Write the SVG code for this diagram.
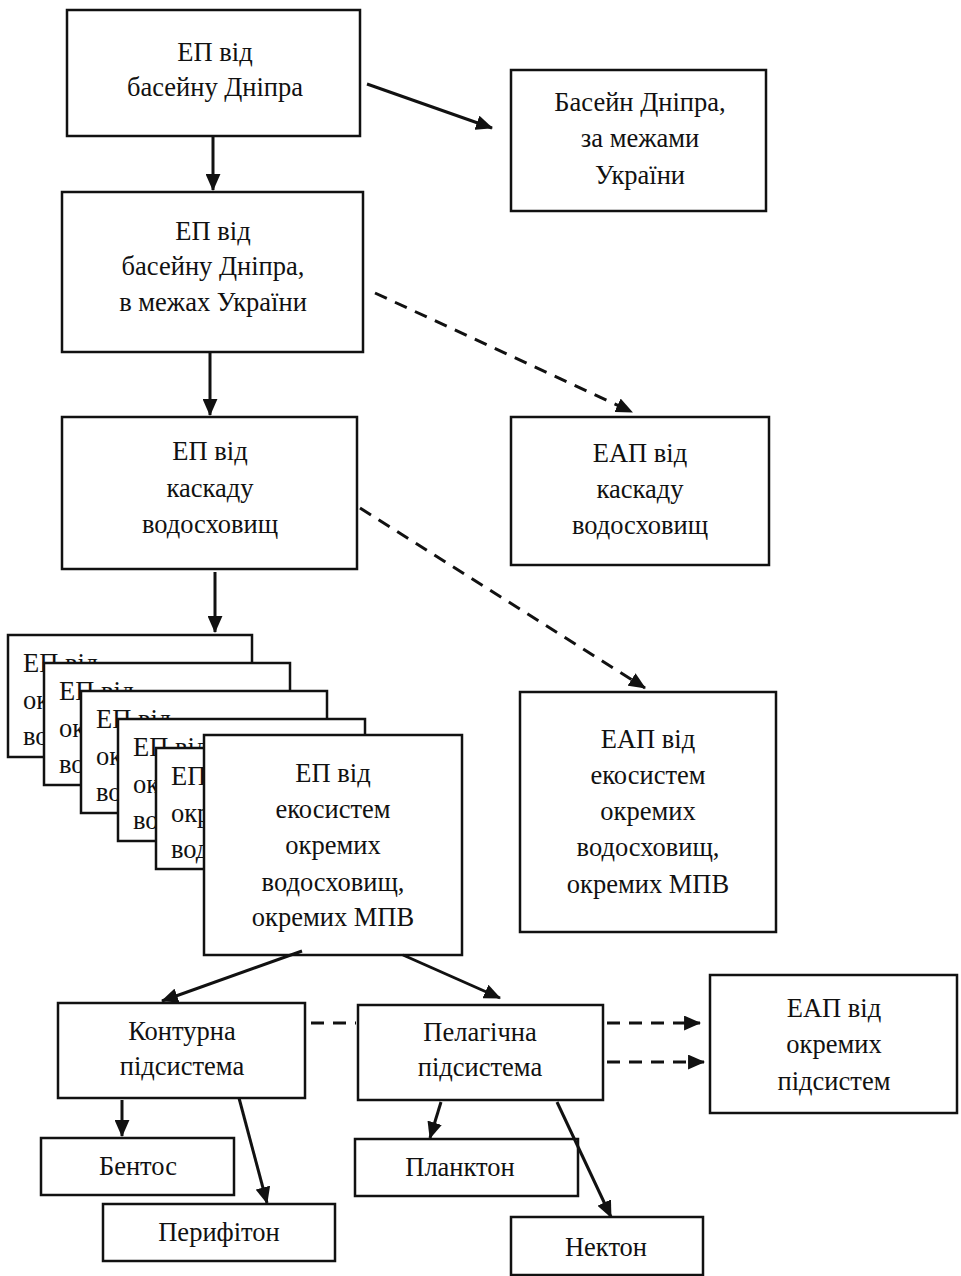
<svg xmlns="http://www.w3.org/2000/svg" width="961" height="1276" viewBox="0 0 961 1276">
<defs>
<style>
.b{fill:#fff;stroke:#111;stroke-width:2.5}
.t{font-family:"Liberation Serif","DejaVu Serif",serif;font-size:26.5px;fill:#111;text-anchor:middle}
.tl{font-family:"Liberation Serif","DejaVu Serif",serif;font-size:26.5px;fill:#111}
.c{stroke:#111;stroke-width:3;fill:none}
.d{stroke:#111;stroke-width:3;fill:none;stroke-dasharray:13 9}
</style>
<marker id="a" viewBox="0 0 16 14" refX="15" refY="7" markerWidth="17" markerHeight="15" markerUnits="userSpaceOnUse" orient="auto">
<path d="M0,0 L16,7 L0,14 z" fill="#111"/>
</marker>
</defs>
<rect width="961" height="1276" fill="#fff"/>

<g id="n1"><rect class="b" x="67" y="10" width="293" height="126"/>
<text class="t" x="215" y="61">ЕП від</text><text class="t" x="215" y="96">басейну Дніпра</text></g>

<g id="n2"><rect class="b" x="511" y="70" width="255" height="141"/>
<text class="t" x="640" y="111">Басейн Дніпра,</text><text class="t" x="640" y="147">за межами</text><text class="t" x="640" y="184">України</text></g>

<g id="n3"><rect class="b" x="62" y="192" width="301" height="160"/>
<text class="t" x="213" y="240">ЕП від</text><text class="t" x="213" y="275">басейну Дніпра,</text><text class="t" x="213" y="311">в межах України</text></g>

<g id="n4"><rect class="b" x="62" y="417" width="295" height="152"/>
<text class="t" x="210" y="460">ЕП від</text><text class="t" x="210" y="497">каскаду</text><text class="t" x="210" y="533">водосховищ</text></g>

<g id="n5"><rect class="b" x="511" y="417" width="258" height="148"/>
<text class="t" x="640" y="462">ЕАП від</text><text class="t" x="640" y="498">каскаду</text><text class="t" x="640" y="534">водосховищ</text></g>

<g id="stack1"><rect class="b" x="8" y="635" width="244" height="122"/>
<text class="tl" x="23" y="672">ЕП від</text><text class="tl" x="23" y="709">ок</text><text class="tl" x="23" y="745">во</text></g>
<g id="stack2"><rect class="b" x="44" y="663" width="246" height="122"/>
<text class="tl" x="59" y="700">ЕП від</text><text class="tl" x="59" y="737">ок</text><text class="tl" x="59" y="773">во</text></g>
<g id="stack3"><rect class="b" x="81" y="691" width="246" height="122"/>
<text class="tl" x="96" y="728">ЕП від</text><text class="tl" x="96" y="765">ок</text><text class="tl" x="96" y="801">во</text></g>
<g id="stack4"><rect class="b" x="118" y="719" width="247" height="122"/>
<text class="tl" x="133" y="756">ЕП від</text><text class="tl" x="133" y="793">ок</text><text class="tl" x="133" y="829">во</text></g>
<g id="stack5"><rect class="b" x="156" y="748" width="247" height="121"/>
<text class="tl" x="171" y="785">ЕП</text><text class="tl" x="171" y="822">окр</text><text class="tl" x="171" y="858">вод</text></g>

<g id="n6"><rect class="b" x="204" y="735" width="258" height="220"/>
<text class="t" x="333" y="782">ЕП від</text><text class="t" x="333" y="818">екосистем</text><text class="t" x="333" y="854">окремих</text><text class="t" x="333" y="891">водосховищ,</text><text class="t" x="333" y="926">окремих МПВ</text></g>

<g id="n7"><rect class="b" x="520" y="692" width="256" height="240"/>
<text class="t" x="648" y="748">ЕАП від</text><text class="t" x="648" y="784">екосистем</text><text class="t" x="648" y="820">окремих</text><text class="t" x="648" y="856">водосховищ,</text><text class="t" x="648" y="893">окремих МПВ</text></g>

<g id="n8"><rect class="b" x="58" y="1003" width="247" height="95"/>
<text class="t" x="182" y="1040">Контурна</text><text class="t" x="182" y="1075">підсистема</text></g>

<g id="n9"><rect class="b" x="358" y="1005" width="245" height="95"/>
<text class="t" x="480" y="1041">Пелагічна</text><text class="t" x="480" y="1076">підсистема</text></g>

<g id="n10"><rect class="b" x="710" y="975" width="247" height="138"/>
<text class="t" x="834" y="1017">ЕАП від</text><text class="t" x="834" y="1053">окремих</text><text class="t" x="834" y="1090">підсистем</text></g>

<g id="n11"><rect class="b" x="41" y="1138" width="193" height="57"/>
<text class="t" x="138" y="1175">Бентос</text></g>
<g id="n12"><rect class="b" x="103" y="1204" width="232" height="57"/>
<text class="t" x="219" y="1241">Перифітон</text></g>
<g id="n13"><rect class="b" x="355" y="1139" width="223" height="57"/>
<text class="t" x="460" y="1176">Планктон</text></g>
<g id="n14"><rect class="b" x="511" y="1217" width="192" height="58"/>
<text class="t" x="606" y="1256">Нектон</text></g>

<g id="connectors">
<line class="c" x1="367" y1="84" x2="492" y2="128" marker-end="url(#a)"/>
<line class="c" x1="213" y1="137" x2="213" y2="190" marker-end="url(#a)"/>
<line class="d" x1="375" y1="293" x2="632" y2="412" marker-end="url(#a)"/>
<line class="c" x1="210" y1="353" x2="210" y2="415" marker-end="url(#a)"/>
<line class="d" x1="360" y1="508" x2="645" y2="688" marker-end="url(#a)"/>
<line class="c" x1="215" y1="572" x2="215" y2="632" marker-end="url(#a)"/>
<line class="c" x1="302" y1="951" x2="162" y2="1001" marker-end="url(#a)"/>
<line class="c" x1="403" y1="955" x2="500" y2="998" marker-end="url(#a)"/>
<line class="d" x1="311" y1="1023" x2="356" y2="1023"/>
<line class="d" x1="607" y1="1023" x2="700" y2="1023" marker-end="url(#a)"/>
<line class="d" x1="607" y1="1062" x2="704" y2="1062" marker-end="url(#a)"/>
<line class="c" x1="122" y1="1100" x2="122" y2="1136" marker-end="url(#a)"/>
<line class="c" x1="239" y1="1098" x2="267" y2="1203" marker-end="url(#a)"/>
<line class="c" x1="441" y1="1102" x2="430" y2="1138" marker-end="url(#a)"/>
<line class="c" x1="557" y1="1102" x2="611" y2="1217" marker-end="url(#a)"/>
</g>
</svg>
